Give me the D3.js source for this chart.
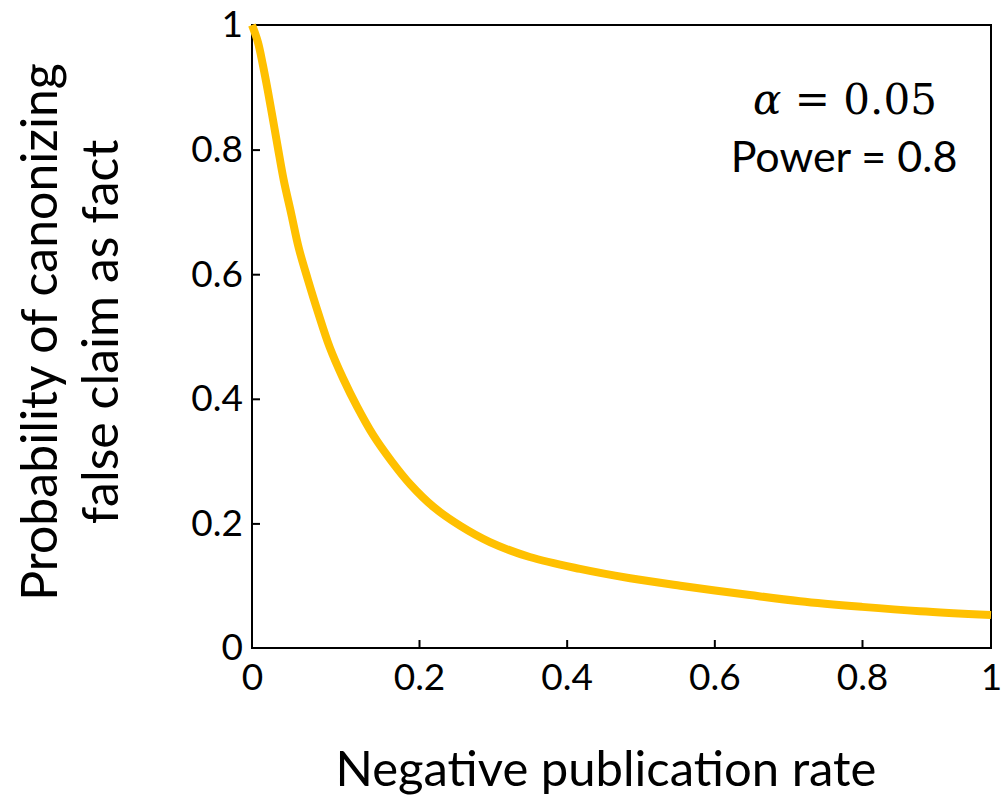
<!DOCTYPE html>
<html>
<head>
<meta charset="utf-8">
<script src="https://cdn.jsdelivr.net/npm/d3@7"></script>
<style>
  body { margin: 0; background: #fff; }
  svg { display: block; }
  text { font-family: Lato, "Open Sans", sans-serif; fill: #000; }
</style>
</head>
<body>
<svg id="chart" width="1004" height="801"></svg>
<script>
// curve
const rate = [0, 0.007, 0.013, 0.019, 0.025, 0.031, 0.038, 0.047, 0.056, 0.067, 0.079, 0.093,
              0.109, 0.126, 0.145, 0.167, 0.190, 0.220, 0.256, 0.296, 0.350, 0.418, 0.486,
              0.554, 0.648, 0.716, 0.800, 0.890, 1.0];
const prob = [1.0, 0.973, 0.936, 0.894, 0.849, 0.803, 0.751, 0.697, 0.642, 0.591, 0.539, 0.483,
              0.433, 0.387, 0.342, 0.300, 0.262, 0.226, 0.196, 0.170, 0.146, 0.127, 0.112,
              0.100, 0.085, 0.075, 0.066, 0.059, 0.053];
const xTicks = [0, 0.2, 0.4, 0.6, 0.8, 1];
const yTicks = [0, 0.2, 0.4, 0.6, 0.8, 1];
const notes = ['Power = 0.8'];

const svg = d3.select('#chart');

// chart box
const boxLeft = 252, boxRight = 991, boxTop = 25, boxBottom = 648;

// the original axis is not evenly spaced, so use a piecewise scale
const xScale = d3.scaleLinear().domain([0, 0.2, 0.8, 1]).range([boxLeft, 419, 862, boxRight]);
const yScale = d3.scaleLinear().domain([0, 1]).range([boxBottom, boxTop]);

// frame
svg.append('rect')
   .attr('x', boxLeft)
   .attr('y', boxTop)
   .attr('width', boxRight - boxLeft)
   .attr('height', boxBottom - boxTop)
   .attr('fill', 'none')
   .attr('stroke', '#000')
   .attr('stroke-width', 2);

// x axis, ticks pointing in
const xAxis = d3.axisBottom(xScale)
                .tickValues(xTicks)
                .tickSizeInner(-8)
                .tickSizeOuter(0)
                .tickPadding(16)
                .tickFormat(d => d3.format('~g')(d));
const gx = svg.append('g')
   .attr('transform', `translate(0, ${boxBottom})`)
   .call(xAxis);
gx.select('.domain').remove();
gx.selectAll('line').attr('stroke', '#000').attr('stroke-width', 2);
gx.selectAll('text')
  .style('font-family', 'Lato, sans-serif')
  .style('font-size', '37px')
  .attr('dy', '0.71em');

// y axis
const yAxis = d3.axisLeft(yScale)
                .tickValues(yTicks)
                .tickSizeInner(-8)
                .tickSizeOuter(0)
                .tickPadding(9)
                .tickFormat(d => d3.format('~g')(d));
const gy = svg.append('g')
   .attr('transform', `translate(${boxLeft}, 0)`)
   .call(yAxis);
gy.select('.domain').remove();
gy.selectAll('line').attr('stroke', '#000').attr('stroke-width', 2);
gy.selectAll('text')
  .style('font-family', 'Lato, sans-serif')
  .style('font-size', '37px');
// ends of the axes have no visible tick marks
gy.selectAll('.tick').filter(d => d === 0 || d === 1).select('line').remove();
gx.selectAll('.tick').filter(d => d === 0 || d === 1).select('line').remove();

// the curve
const line = d3.line()
               .x((d, i) => xScale(rate[i]))
               .y(d => yScale(d))
               .curve(d3.curveCatmullRom);
svg.append('path')
   .attr('d', line(prob))
   .attr('fill', 'none')
   .attr('stroke', '#ffc000')
   .attr('stroke-width', 8)
   .attr('stroke-linecap', 'butt');

// axis titles
svg.append('text')
   .text('Negative publication rate')
   .attr('x', 606)
   .attr('y', 786)
   .attr('text-anchor', 'middle')
   .style('font-size', '49px');

const ytitle = svg.append('text')
   .attr('transform', 'translate(57, 332) rotate(-90)')
   .attr('text-anchor', 'middle')
   .style('font-size', '50px');
ytitle.append('tspan').attr('x', 0).attr('y', 0).text('Probability of canonizing');
ytitle.append('tspan').attr('x', 0).attr('y', 61).text('false claim as fact');

// annotation
const note = svg.append('text')
   .attr('x', 845)
   .attr('y', 114)
   .attr('text-anchor', 'middle')
   .style('font-family', '"DejaVu Serif", serif')
   .style('font-size', '42px');
note.append('tspan').style('font-style', 'italic').text('α');
note.append('tspan').text(' = 0.05');

svg.append('text')
   .text(notes[0])
   .attr('x', 844)
   .attr('y', 172)
   .attr('text-anchor', 'middle')
   .style('font-size', '43px');
</script>
</body>
</html>
